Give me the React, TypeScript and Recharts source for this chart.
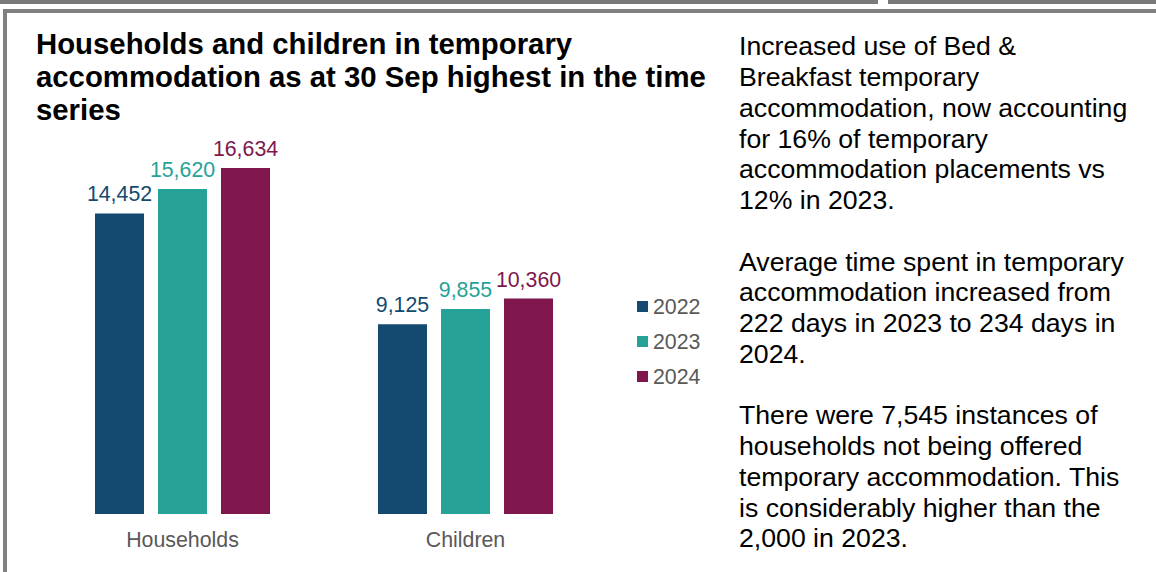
import React from "react";
import { BarChart, Bar, XAxis, YAxis, LabelList } from "recharts";

const categories = ["Households", "Children"];
const series2022 = [14452, 9125];
const series2023 = [15620, 9855];
const series2024 = [16634, 10360];
const seriesNames = ["2022", "2023", "2024"];
const seriesColors = ["#144A6F", "#26A296", "#7F174C"];

const titleLines = [
  "Households and children in temporary",
  "accommodation as at 30 Sep highest in the time",
  "series",
];

const sideLines = [
  "Increased use of Bed &",
  "Breakfast temporary",
  "accommodation, now accounting",
  "for 16% of temporary",
  "accommodation placements vs",
  "12% in 2023.",
  "",
  "Average time spent in temporary",
  "accommodation increased from",
  "222 days in 2023 to 234 days in",
  "2024.",
  "",
  "There were 7,545 instances of",
  "households not being offered",
  "temporary accommodation. This",
  "is considerably higher than the",
  "2,000 in 2023.",
];

const seriesValues = [series2022, series2023, series2024];
const data = categories.map((c, i) => ({
  name: c,
  s0: series2022[i],
  s1: series2023[i],
  s2: series2024[i],
}));

const FONT = "'Liberation Sans', Arial, sans-serif";
const fmt = (v: any) => Number(v).toLocaleString("en-US");

export default function App() {
  return (
    <div
      style={{
        position: "absolute",
        left: 0,
        top: 0,
        width: 1156,
        height: 572,
        background: "#fff",
        overflow: "hidden",
        fontFamily: FONT,
      }}
    >
      {/* frame */}
      <div style={{ position: "absolute", left: 0, top: 0, width: 878, height: 4, background: "#7a7a7a" }} />
      <div style={{ position: "absolute", left: 888, top: 0, width: 268, height: 4, background: "#7a7a7a" }} />
      <div style={{ position: "absolute", left: 3, top: 9, width: 1153, height: 4, background: "#808080" }} />
      <div style={{ position: "absolute", left: 3, top: 9, width: 4, height: 563, background: "#808080" }} />

      {/* title */}
      <div
        style={{
          position: "absolute",
          left: 36,
          top: 26.6,
          fontSize: 29.33,
          lineHeight: "33px",
          fontWeight: "bold",
          color: "#000",
          whiteSpace: "nowrap",
        }}
      >
        {titleLines.map((l, i) => (
          <div key={i}>{l}</div>
        ))}
      </div>

      {/* side text */}
      <div
        style={{
          position: "absolute",
          left: 739,
          top: 31.4,
          fontSize: 26.67,
          lineHeight: "30.75px",
          color: "#000",
          whiteSpace: "nowrap",
        }}
      >
        {sideLines.map((l, i) => (
          <div key={i} style={{ height: 30.75 }}>{l}</div>
        ))}
      </div>

      {/* chart */}
      <div style={{ position: "absolute", left: 0, top: 0 }}>
        <BarChart
          width={720}
          height={572}
          data={data}
          margin={{ top: 98, left: 41, right: 113, bottom: 28 }}
          barSize={49}
          barGap={14}
        >
          <XAxis
            dataKey="name"
            axisLine={false}
            tickLine={false}
            tickSize={0}
            tickMargin={17.6}
            height={30}
            interval={0}
            tick={{ fill: "#595959", fontSize: 21.33, fontFamily: FONT }}
          />
          <YAxis hide domain={[0, 20000]} />
          {seriesValues.map((_, si) => (
            <Bar
              key={si}
              dataKey={`s${si}`}
              name={seriesNames[si]}
              fill={seriesColors[si]}
              isAnimationActive={false}
            >
              <LabelList
                dataKey={`s${si}`}
                position="top"
                offset={12}
                formatter={fmt}
                style={{ fill: seriesColors[si], fontSize: 21.33, fontFamily: FONT }}
              />
            </Bar>
          ))}
        </BarChart>
      </div>

      {/* legend */}
      {seriesNames.map((n, i) => (
        <div key={n}>
          <div
            style={{
              position: "absolute",
              left: 637,
              top: 301 + 35 * i,
              width: 11,
              height: 11,
              background: seriesColors[i],
            }}
          />
          <div
            style={{
              position: "absolute",
              left: 653,
              top: 294.6 + 35 * i,
              fontSize: 21.33,
              lineHeight: "24px",
              color: "#595959",
              whiteSpace: "nowrap",
            }}
          >
            {n}
          </div>
        </div>
      ))}
    </div>
  );
}
